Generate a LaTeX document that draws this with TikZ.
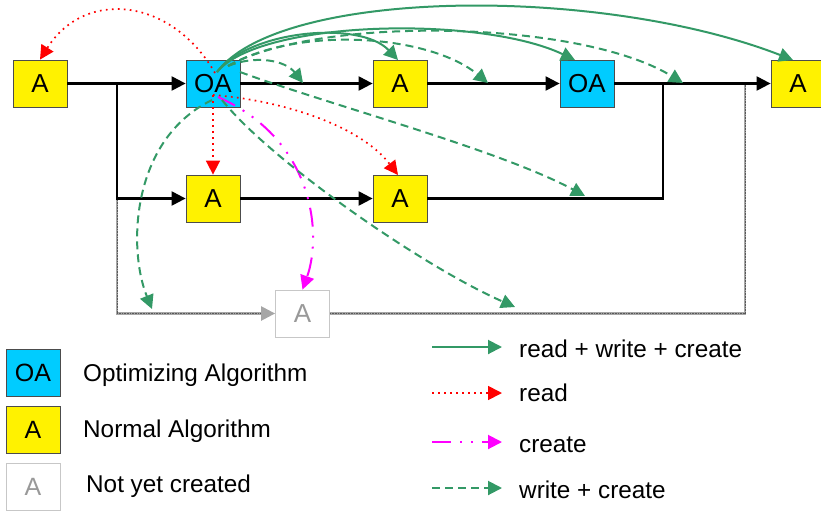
\documentclass[tikz,border=0pt]{standalone}
\usepackage{fontspec}
\setmainfont{Liberation Sans}
\usetikzlibrary{arrows.meta}
\definecolor{oacyan}{RGB}{0,204,255}
\definecolor{rwgreen}{RGB}{51,153,102}
\definecolor{crmag}{RGB}{255,0,255}
\definecolor{rdred}{RGB}{255,0,0}
\begin{document}
\begin{tikzpicture}[x=1pt,y=-1pt,
  >={Triangle[length=14pt,width=14pt]},
  box/.style={draw=black!70, line width=0.8pt, minimum width=54pt, minimum height=47pt, inner sep=0pt, font=\fontsize{26}{26}\selectfont},
  algo/.style={box, fill=yellow},
  opt/.style={box, fill=oacyan},
  notyet/.style={box, draw=black!22, fill=white, text=black!40},
  flow/.style={line width=2.2pt, black},
  ghost/.style={line width=2.4pt, black!35},
  ghostdots/.style={line width=1pt, black!65, dash pattern=on 0.8pt off 0.8pt},
  rwc/.style={rwgreen, line width=2pt, ->},
  wc/.style={rwgreen, line width=2pt, dash pattern=on 8pt off 5pt, ->},
  rd/.style={rdred, line width=1.7pt, dash pattern=on 1.7pt off 4.3pt, ->},
  cr/.style={crmag, line width=2pt, dash pattern=on 19pt off 9pt on 2pt off 9pt on 2pt off 9pt, ->},
  legtext/.style={anchor=base west, inner sep=0pt, font=\fontsize{24.3}{24.3}\selectfont},
]
\useasboundingbox (0,0) rectangle (821,512);

% nodes
\node[algo] (a1)  at (40,83.5)  {A};
\node[opt]  (oa1) at (213,83.5) {OA};
\node[algo] (a2)  at (400,83.5) {A};
\node[opt]  (oa2) at (587,83.5) {OA};
\node[algo] (a5)  at (798,83.5) {A};
\node[algo] (b1)  at (213,198.5) {A};
\node[algo] (b2)  at (400,198.5) {A};
\node[notyet] (nc) at (302.5,313.5) {A};

% junctions
\coordinate (j1) at (117,83.5);
\coordinate (j1b) at (117,198.5);
\coordinate (j2) at (663,83.5);
\coordinate (g2) at (117,313.5);
\coordinate (g3) at (745,313.5);
\coordinate (g4) at (745,83.5);

% ghost (not yet created) path
\draw[ghost,->] (j1b) -- (g2) -- (nc.west);
\draw[ghostdots, shorten >=14pt] (j1b) -- (g2) -- (nc.west);
\draw[ghost] (nc.east) -- (g3) -- (g4);
\draw[ghostdots] (nc.east) -- (g3) -- (g4);

% main flow
\draw[flow] (a1.east) -- (j1);
\draw[flow,->] (j1) -- (oa1.west);
\draw[flow,->] (j1) |- (b1.west);
\draw[flow,->] (oa1) -- (a2);
\draw[flow,->] (a2) -- (oa2);
\draw[flow] (oa2.east) -- (j2);
\draw[flow,->] (j2) -- (a5.west);
\draw[flow] (b2.east) -| (j2);
\draw[flow,->] (b1) -- (b2);

% start / end points of the relations
\coordinate (sT) at (217,72);
\coordinate (sD) at (228,66);
\coordinate (sR) at (240,72);
\coordinate (sB) at (213,95);
\coordinate (sBr) at (222,100);
\coordinate (sBl) at (212,100);
\coordinate (sR1) at (215,73);
\coordinate (sM) at (218,97);
\coordinate (eG1) at (398,60);
\coordinate (eG2) at (575,60);
\coordinate (eG3) at (793,60);
\coordinate (eD1) at (303,83);
\coordinate (eD2) at (488,83);
\coordinate (eD3) at (683,83);
\coordinate (eD4) at (585,196);
\coordinate (eD5) at (515,307);
\coordinate (eD6) at (152,309);
\coordinate (eR3) at (398,175);

% read (red dotted)
\draw[rd] (sR1) .. controls (172,-2) and (85,-12) .. (a1.north);
\draw[rd] (sB) -- (b1.north);
\draw[rd] (sB) .. controls (280,100) and (360,125) .. (eR3);

% create (magenta)
\draw[cr] (sM) .. controls (315,140) and (322,235) .. (nc.north);

% read + write + create (green solid)
\draw[rwc] (sT) .. controls (250,30) and (360,20) .. (eG1);
\draw[rwc] (sT) .. controls (260,20) and (480,15) .. (eG2);
\draw[rwc] (sT) .. controls (280,-12) and (600,-15) .. (eG3);

% write + create (green dashed)
\draw[wc] (sD) .. controls (255,55) and (285,60) .. (eD1);
\draw[wc] (sD) .. controls (300,25) and (430,35) .. (eD2);
\draw[wc] (sD) .. controls (320,15) and (580,20) .. (eD3);
\draw[wc] (sR) .. controls (330,105) and (500,150) .. (eD4);
\draw[wc] (sBr) .. controls (270,160) and (420,265) .. (eD5);
\draw[wc] (sBl) .. controls (130,140) and (128,250) .. (eD6);

% legend: boxes
\node[opt]    (loa) at (33,372.5) {\fontsize{25}{25}\selectfont OA};
\node[algo]   (la)  at (33,429.5) {\fontsize{25}{25}\selectfont A};
\node[notyet] (lnc) at (33,486.5) {\fontsize{25}{25}\selectfont A};
\node[legtext] (tloa) at (83,381) {Optimizing Algorithm};
\node[legtext] (tla)  at (83,437) {Normal Algorithm};
\node[legtext] (tlnc) at (86,492) {Not yet created};

% legend: relations
\coordinate (l1a) at (432,347); \coordinate (l1b) at (502,347);
\coordinate (l2a) at (432,393); \coordinate (l2b) at (502,393);
\coordinate (l3a) at (432,442); \coordinate (l3b) at (502,442);
\coordinate (l4a) at (432,488); \coordinate (l4b) at (502,488);
\draw[rwc] (l1a) -- (l1b);
\draw[rd]  (l2a) -- (l2b);
\draw[cr]  (l3a) -- (l3b);
\draw[wc]  (l4a) -- (l4b);
\node[legtext] (t1) at (519,357) {read + write + create};
\node[legtext] (t2) at (519,401) {read};
\node[legtext] (t3) at (519,452) {create};
\node[legtext] (t4) at (519,498) {write + create};
\end{tikzpicture}
\end{document}
